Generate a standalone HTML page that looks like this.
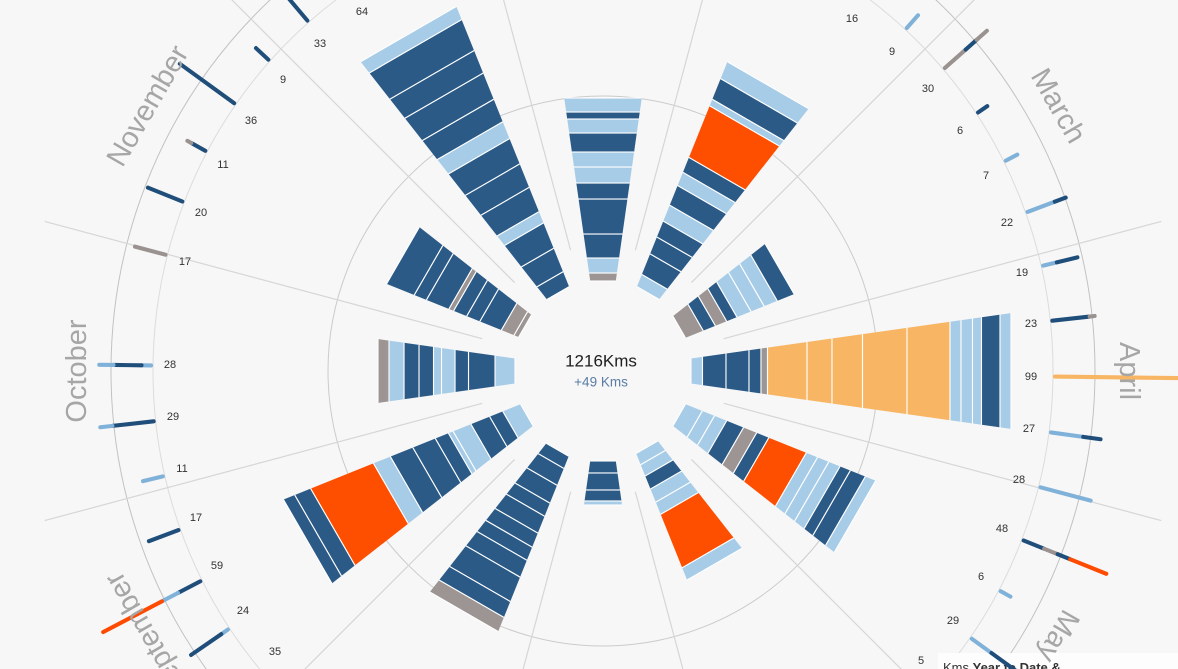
<!DOCTYPE html>
<html>
<head>
<meta charset="utf-8">
<style>
html,body{margin:0;padding:0;background:#f7f7f7;width:1178px;height:669px;overflow:hidden;}
svg{display:block;overflow:hidden;}
.d{fill:#2b5a87}.l{fill:#a7cce7}.g{fill:#9d9593}.r{fill:#fe4f00}.y{fill:#f8b664}
.bars rect{stroke:#ffffff;stroke-width:1.1}
.t line{stroke-width:4;stroke-linecap:round}
.td{stroke:#1f4e7a}.tl{stroke:#80b2d9}.tg{stroke:#9a9290}.tr{stroke:#ff4b00}.ty{stroke:#f8b664}
.wk{font-family:"Liberation Sans",sans-serif;font-size:11px;fill:#333;text-anchor:middle;dominant-baseline:central}
.mo{font-family:"Liberation Sans",sans-serif;font-size:29px;fill:#a6a6a6;text-anchor:middle;dominant-baseline:central}
.div line{stroke:#d6d6d6;stroke-width:1.2}
</style>
</head>
<body>
<svg width="1178" height="669" viewBox="0 0 1178 669" xmlns="http://www.w3.org/2000/svg">
<defs>
<clipPath id="w"><polygon points="0,0 700,-99.4 700,99.4"/></clipPath>
</defs>
<rect x="0" y="0" width="1178" height="669" fill="#f7f7f7"/>

<!-- circles -->
<circle cx="603" cy="371" r="275" fill="none" stroke="#cbcbcb" stroke-width="1"/>
<ellipse cx="603" cy="371" rx="450" ry="461" fill="none" stroke="#dcdcdc" stroke-width="1"/>
<ellipse cx="603" cy="371" rx="492" ry="504" fill="none" stroke="#c2c2c2" stroke-width="1"/>

<!-- dividers -->
<g class="div" transform="translate(603,371)">
<line x1="125" x2="578" transform="rotate(-75)"/>
<line x1="125" x2="578" transform="rotate(-45)"/>
<line x1="125" x2="578" transform="rotate(-15)"/>
<line x1="125" x2="578" transform="rotate(15)"/>
<line x1="125" x2="578" transform="rotate(45)"/>
<line x1="125" x2="578" transform="rotate(75)"/>
<line x1="125" x2="578" transform="rotate(105)"/>
<line x1="125" x2="578" transform="rotate(135)"/>
<line x1="125" x2="578" transform="rotate(165)"/>
<line x1="125" x2="578" transform="rotate(195)"/>
<line x1="125" x2="578" transform="rotate(225)"/>
<line x1="125" x2="578" transform="rotate(255)"/>
</g>

<!-- month bars -->
<g class="bars">
<!-- Jan -->
<g transform="translate(603,371) rotate(-90)"><g clip-path="url(#w)">
<rect class="g" x="90" y="-100" width="8" height="200"/>
<rect class="l" x="98" y="-100" width="15" height="200"/>
<rect class="d" x="113" y="-100" width="24" height="200"/>
<rect class="d" x="137" y="-100" width="35" height="200"/>
<rect class="d" x="172" y="-100" width="16" height="200"/>
<rect class="l" x="188" y="-100" width="16" height="200"/>
<rect class="l" x="204" y="-100" width="15" height="200"/>
<rect class="d" x="219" y="-100" width="19" height="200"/>
<rect class="l" x="238" y="-100" width="14" height="200"/>
<rect class="d" x="252" y="-100" width="7" height="200"/>
<rect class="l" x="259" y="-100" width="14" height="200"/>
</g></g>
<!-- Feb -->
<g transform="translate(603,371) rotate(-60)"><g clip-path="url(#w)">
<rect class="l" x="90" y="-100" width="13" height="200"/>
<rect class="d" x="103" y="-100" width="22" height="200"/>
<rect class="d" x="125" y="-100" width="18" height="200"/>
<rect class="d" x="143" y="-100" width="17" height="200"/>
<rect class="l" x="160" y="-100" width="17" height="200"/>
<rect class="d" x="177" y="-100" width="21" height="200"/>
<rect class="l" x="198" y="-100" width="14" height="200"/>
<rect class="d" x="212" y="-100" width="16" height="200"/>
<rect class="r" x="228" y="-100" width="55" height="200"/>
<rect class="l" x="283" y="-100" width="7" height="200"/>
<rect class="d" x="290" y="-100" width="22" height="200"/>
<rect class="l" x="312" y="-100" width="18" height="200"/>
</g></g>
<!-- Mar -->
<g transform="translate(603,371) rotate(-30)"><g clip-path="url(#w)">
<rect class="g" x="88" y="-100" width="19" height="200"/>
<rect class="d" x="107" y="-100" width="13" height="200"/>
<rect class="g" x="120" y="-100" width="12" height="200"/>
<rect class="d" x="132" y="-100" width="11" height="200"/>
<rect class="l" x="143" y="-100" width="15" height="200"/>
<rect class="l" x="158" y="-100" width="14" height="200"/>
<rect class="l" x="172" y="-100" width="14" height="200"/>
<rect class="d" x="186" y="-100" width="18" height="200"/>
</g></g>
<!-- Apr -->
<g transform="translate(603,371) rotate(0)"><g clip-path="url(#w)">
<rect class="l" x="88" y="-100" width="11.5" height="200"/>
<rect class="d" x="99.5" y="-100" width="23.5" height="200"/>
<rect class="d" x="123" y="-100" width="23" height="200"/>
<rect class="d" x="146" y="-100" width="12" height="200"/>
<rect class="g" x="158" y="-100" width="6.5" height="200"/>
<rect class="y" x="164.5" y="-100" width="39.5" height="200"/>
<rect class="y" x="204" y="-100" width="25" height="200"/>
<rect class="y" x="229" y="-100" width="30.5" height="200"/>
<rect class="y" x="259.5" y="-100" width="44.5" height="200"/>
<rect class="y" x="304" y="-100" width="43" height="200"/>
<rect class="l" x="347" y="-100" width="11" height="200"/>
<rect class="l" x="358" y="-100" width="11.5" height="200"/>
<rect class="l" x="369.5" y="-100" width="9" height="200"/>
<rect class="d" x="378.5" y="-100" width="18.5" height="200"/>
<rect class="l" x="397" y="-100" width="11" height="200"/>
</g></g>
<!-- May -->
<g transform="translate(603,371) rotate(30)"><g clip-path="url(#w)">
<rect class="l" x="88" y="-100" width="18" height="200"/>
<rect class="l" x="106" y="-100" width="13" height="200"/>
<rect class="l" x="119" y="-100" width="13" height="200"/>
<rect class="d" x="132" y="-100" width="18" height="200"/>
<rect class="g" x="150" y="-100" width="14" height="200"/>
<rect class="d" x="164" y="-100" width="13" height="200"/>
<rect class="r" x="177" y="-100" width="40" height="200"/>
<rect class="l" x="217" y="-100" width="12" height="200"/>
<rect class="l" x="229" y="-100" width="12" height="200"/>
<rect class="l" x="241" y="-100" width="12" height="200"/>
<rect class="d" x="253" y="-100" width="11" height="200"/>
<rect class="d" x="264" y="-100" width="16" height="200"/>
<rect class="l" x="280" y="-100" width="11" height="200"/>
</g></g>
<!-- Jun -->
<g transform="translate(603,371) rotate(60)"><g clip-path="url(#w)">
<rect class="l" x="88" y="-100" width="12" height="200"/>
<rect class="l" x="100" y="-100" width="12" height="200"/>
<rect class="d" x="112" y="-100" width="14" height="200"/>
<rect class="l" x="126" y="-100" width="14" height="200"/>
<rect class="l" x="140" y="-100" width="13" height="200"/>
<rect class="r" x="153" y="-100" width="57" height="200"/>
<rect class="l" x="210" y="-100" width="13" height="200"/>
</g></g>
<!-- Jul -->
<g transform="translate(603,371) rotate(90)"><g clip-path="url(#w)">
<rect class="d" x="90" y="-100" width="12" height="200"/>
<rect class="d" x="102" y="-100" width="17" height="200"/>
<rect class="d" x="119" y="-100" width="11" height="200"/>
<rect class="l" x="130" y="-100" width="4" height="200"/>
</g></g>
<!-- Aug -->
<g transform="translate(603,371) rotate(120)"><g clip-path="url(#w)">
<rect class="d" x="91" y="-100" width="13" height="200"/>
<rect class="d" x="104" y="-100" width="18" height="200"/>
<rect class="d" x="122" y="-100" width="19" height="200"/>
<rect class="d" x="141" y="-100" width="14" height="200"/>
<rect class="d" x="155" y="-100" width="18" height="200"/>
<rect class="d" x="173" y="-100" width="15" height="200"/>
<rect class="d" x="188" y="-100" width="14" height="200"/>
<rect class="d" x="202" y="-100" width="18" height="200"/>
<rect class="d" x="220" y="-100" width="26" height="200"/>
<rect class="d" x="246" y="-100" width="17" height="200"/>
<rect class="g" x="263" y="-100" width="15" height="200"/>
</g></g>
<!-- Sep -->
<g transform="translate(603,371) rotate(150)"><g clip-path="url(#w)">
<rect class="l" x="88" y="-100" width="19" height="200"/>
<rect class="d" x="107" y="-100" width="14" height="200"/>
<rect class="d" x="121" y="-100" width="20" height="200"/>
<rect class="l" x="141" y="-100" width="19" height="200"/>
<rect class="l" x="160" y="-100" width="5" height="200"/>
<rect class="d" x="165" y="-100" width="14" height="200"/>
<rect class="d" x="179" y="-100" width="24" height="200"/>
<rect class="d" x="203" y="-100" width="24" height="200"/>
<rect class="l" x="227" y="-100" width="18" height="200"/>
<rect class="r" x="245" y="-100" width="67" height="200"/>
<rect class="d" x="312" y="-100" width="17" height="200"/>
<rect class="d" x="329" y="-100" width="12" height="200"/>
</g></g>
<!-- Oct -->
<g transform="translate(603,371) rotate(180)"><g clip-path="url(#w)">
<rect class="l" x="88" y="-100" width="20" height="200"/>
<rect class="d" x="108" y="-100" width="26.5" height="200"/>
<rect class="d" x="134.5" y="-100" width="13.5" height="200"/>
<rect class="l" x="148" y="-100" width="13.5" height="200"/>
<rect class="l" x="161.5" y="-100" width="8" height="200"/>
<rect class="d" x="169.5" y="-100" width="14.5" height="200"/>
<rect class="d" x="184" y="-100" width="15" height="200"/>
<rect class="l" x="199" y="-100" width="15" height="200"/>
<rect class="g" x="214" y="-100" width="11" height="200"/>
</g></g>
<!-- Nov -->
<g transform="translate(603,371) rotate(210)"><g clip-path="url(#w)">
<rect class="g" x="90" y="-100" width="5" height="200"/>
<rect class="g" x="95" y="-100" width="13.5" height="200"/>
<rect class="d" x="108.5" y="-100" width="23" height="200"/>
<rect class="d" x="131.5" y="-100" width="14" height="200"/>
<rect class="d" x="145.5" y="-100" width="14" height="200"/>
<rect class="g" x="159.5" y="-100" width="5" height="200"/>
<rect class="d" x="164.5" y="-100" width="24" height="200"/>
<rect class="d" x="188.5" y="-100" width="13" height="200"/>
<rect class="d" x="201.5" y="-100" width="29.5" height="200"/>
</g></g>
<!-- Dec -->
<g transform="translate(603,371) rotate(240)"><g clip-path="url(#w)">
<rect class="d" x="90" y="-100" width="16" height="200"/>
<rect class="d" x="106" y="-100" width="25" height="200"/>
<rect class="d" x="131" y="-100" width="27" height="200"/>
<rect class="l" x="158" y="-100" width="12" height="200"/>
<rect class="d" x="170" y="-100" width="26" height="200"/>
<rect class="d" x="196" y="-100" width="25" height="200"/>
<rect class="d" x="221" y="-100" width="27" height="200"/>
<rect class="l" x="248" y="-100" width="18" height="200"/>
<rect class="d" x="266" y="-100" width="24" height="200"/>
<rect class="d" x="290" y="-100" width="28" height="200"/>
<rect class="d" x="318" y="-100" width="24" height="200"/>
<rect class="d" x="342" y="-100" width="33" height="200"/>
<rect class="l" x="375" y="-100" width="14" height="200"/>
</g></g>
</g>

<!-- legend box (bottom right) -->
<rect x="938" y="653" width="240" height="16" fill="#fdfdfd"/>
<text x="943" y="672" font-family="Liberation Sans, sans-serif" font-size="13" fill="#333">Kms <tspan font-weight="bold">Year to Date &amp;</tspan></text>

<!-- weekly ticks -->
<g class="t" transform="translate(603,371) scale(1,1.025)">
<g transform="rotate(-54.69)"><line class="tl" x1="452" x2="481.6"/></g>
<g transform="rotate(-47.77)"><line class="tl" x1="452" x2="468.7"/></g>
<g transform="rotate(-40.85)"><line class="tg" x1="452" x2="479.5"/><line class="td" x1="479.5" x2="494"/><line class="tg" x1="494" x2="507.5"/></g>
<g transform="rotate(-33.92)"><line class="td" x1="452" x2="463.1"/></g>
<g transform="rotate(-27)"><line class="tl" x1="452" x2="465"/></g>
<g transform="rotate(-20.08)"><line class="tl" x1="452" x2="481"/><line class="td" x1="481" x2="492.7"/></g>
<g transform="rotate(-13.15)"><line class="tl" x1="452" x2="466"/><line class="td" x1="466" x2="487.2"/></g>
<g transform="rotate(-6.23)"><line class="td" x1="452" x2="489.5"/><line class="tg" x1="489.5" x2="494.6"/></g>
<g transform="rotate(0.69)"><line class="ty" x1="452" x2="700"/></g>
<g transform="rotate(7.62)"><line class="tl" x1="452" x2="484.5"/><line class="td" x1="484.5" x2="502"/></g>
<g transform="rotate(14.54)"><line class="tl" x1="452" x2="503.8"/></g>
<g transform="rotate(21.46)"><line class="td" x1="452" x2="474"/><line class="tg" x1="474" x2="488.5"/><line class="td" x1="488.5" x2="502"/><line class="tr" x1="502" x2="540.8"/></g>
<g transform="rotate(28.38)"><line class="tl" x1="452" x2="463.1"/></g>
<g transform="rotate(35.31)"><line class="tl" x1="452" x2="476"/><line class="td" x1="476" x2="505.7"/></g>
<g transform="rotate(42.23)"><line class="tl" x1="452" x2="461.3"/></g>
<g transform="rotate(139.15)"><line class="td" x1="452" x2="516.8"/></g>
<g transform="rotate(146.08)"><line class="tl" x1="452" x2="460"/><line class="td" x1="460" x2="496.4"/></g>
<g transform="rotate(153)"><line class="td" x1="452" x2="477"/><line class="tl" x1="477" x2="495"/><line class="tr" x1="495" x2="561"/></g>
<g transform="rotate(159.92)"><line class="td" x1="452" x2="483.5"/></g>
<g transform="rotate(166.85)"><line class="tl" x1="452" x2="472.4"/></g>
<g transform="rotate(173.77)"><line class="td" x1="452" x2="493.5"/><line class="tl" x1="493.5" x2="505.7"/></g>
<g transform="rotate(180.69)"><line class="tl" x1="452" x2="461.5"/><line class="td" x1="461.5" x2="489.5"/><line class="tl" x1="489.5" x2="503.8"/></g>
<g transform="rotate(194.54)"><line class="tg" x1="452" x2="483.5"/></g>
<g transform="rotate(201.46)"><line class="td" x1="452" x2="489"/></g>
<g transform="rotate(208.38)"><line class="td" x1="452" x2="468"/><line class="tg" x1="468" x2="472.4"/></g>
<g transform="rotate(215.31)"><line class="td" x1="452" x2="518.6"/></g>
<g transform="rotate(222.23)"><line class="td" x1="452" x2="468.7"/></g>
<g transform="rotate(229.15)"><line class="td" x1="452" x2="513"/></g>
<g transform="rotate(236.08)"><line class="td" x1="452" x2="570.4"/></g>
</g>

<!-- weekly labels -->
<g class="wk">
<text x="852" y="19">16</text>
<text x="892" y="52">9</text>
<text x="928" y="89">30</text>
<text x="960" y="131">6</text>
<text x="986" y="176">7</text>
<text x="1007" y="223">22</text>
<text x="1022" y="273">19</text>
<text x="1031" y="324">23</text>
<text x="1031" y="377">99</text>
<text x="1029" y="429">27</text>
<text x="1019" y="480">28</text>
<text x="1002" y="529">48</text>
<text x="981" y="577">6</text>
<text x="953" y="621">29</text>
<text x="921" y="661">5</text>
<text x="275" y="652">35</text>
<text x="243" y="611">24</text>
<text x="217" y="566">59</text>
<text x="196" y="518">17</text>
<text x="182" y="469">11</text>
<text x="173" y="417">29</text>
<text x="170" y="365">28</text>
<text x="185" y="262">17</text>
<text x="201" y="213">20</text>
<text x="223" y="165">11</text>
<text x="251" y="121">36</text>
<text x="283" y="80">9</text>
<text x="320" y="44">33</text>
<text x="362" y="12">64</text>
</g>

<!-- month labels -->
<g class="mo">
<text transform="translate(1058,106) rotate(60)">March</text>
<text transform="translate(1129,371) rotate(90)">April</text>
<text transform="translate(1058,636) rotate(120)">May</text>
<text transform="translate(148,636) rotate(240)">September</text>
<text transform="translate(77,371) rotate(270)">October</text>
<text transform="translate(148,106) rotate(300)">November</text>
</g>

<!-- center -->
<text x="601" y="361" font-family="Liberation Sans, sans-serif" font-size="17" fill="#1e1e1e" text-anchor="middle" dominant-baseline="central">1216Kms</text>
<text x="601" y="382" font-family="Liberation Sans, sans-serif" font-size="13.5" fill="#5a7ca5" text-anchor="middle" dominant-baseline="central">+49 Kms</text>
</svg>
</body>
</html>
